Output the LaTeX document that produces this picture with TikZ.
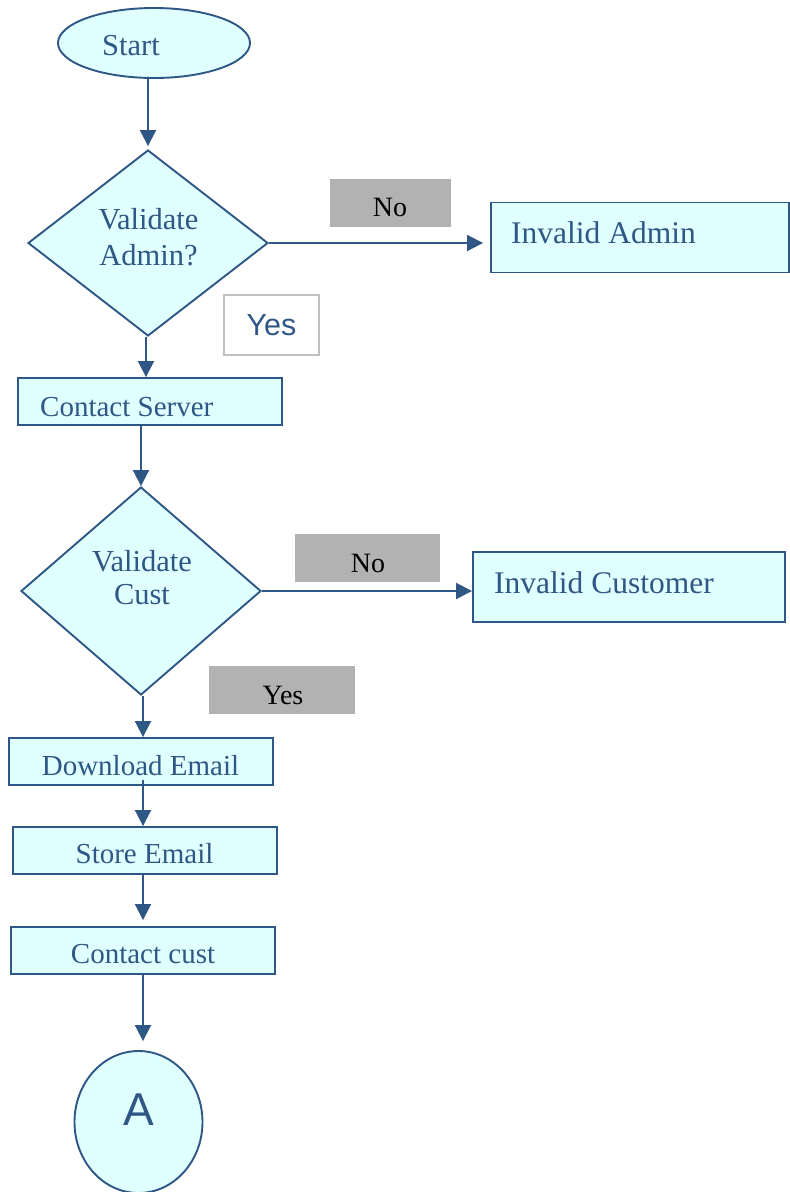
\documentclass[tikz,border=0pt]{standalone}
\usepackage{fontspec}
\setmainfont{Liberation Serif}
\setsansfont{Liberation Sans}
\usetikzlibrary{shapes.geometric,arrows.meta}
\definecolor{flowline}{RGB}{46,87,133}
\definecolor{flowfill}{RGB}{224,255,255}
\definecolor{tagfill}{RGB}{178,178,178}
\definecolor{tagedge}{RGB}{192,192,192}
\begin{document}
\begin{tikzpicture}[x=1pt,y=-1pt,
  shapebase/.style={draw=flowline, fill=flowfill, line width=1.9pt, inner sep=0pt},
  procbox/.style={shapebase, rectangle, minimum width=#1, minimum height=47pt},
  endbox/.style={shapebase, rectangle, minimum width=#1, minimum height=70pt},
  decision/.style={shapebase, diamond, minimum width=240pt, minimum height=#1},
  terminal/.style={shapebase, ellipse, minimum width=192pt, minimum height=70pt},
  connector/.style={shapebase, ellipse, minimum width=128pt, minimum height=142pt},
  graytag/.style={rectangle, fill=tagfill, draw=none, inner sep=0pt, minimum width=#1, minimum height=48pt},
  whitetag/.style={rectangle, fill=white, draw=tagedge, line width=1.6pt, inner sep=0pt, minimum width=95pt, minimum height=60pt},
  txt/.style={font=\fontsize{29}{34}\selectfont, text=flowline, anchor=base, inner sep=0pt},
  midtxt/.style={txt, font=\fontsize{30.5}{36}\selectfont},
  bigtxt/.style={font=\fontsize{31.5}{36}\selectfont, text=flowline, anchor=base west, inner sep=0pt},
  tagtxt/.style={font=\fontsize{28}{34}\selectfont, text=black, anchor=base, inner sep=0pt},
  flow/.style={draw=flowline, line width=1.9pt, -{Triangle[length=16pt,width=16pt]}},
]
\useasboundingbox (0,0) rectangle (790,1192);

% shapes
\node[terminal] (start) at (154,43) {};
\node[decision=186pt] (d1) at (148,243) {};
\node[endbox=298pt] (ia) at (640,237.5) {};
\node[graytag=121pt] (no1) at (390.5,203) {};
\node[whitetag] (yes1) at (271.5,325) {};
\node[procbox=264pt] (cs) at (150,401.5) {};
\node[decision=208pt] (d2) at (141,591) {};
\node[graytag=145pt] (no2) at (367.5,558) {};
\node[endbox=312pt] (ic) at (629,587) {};
\node[graytag=146pt] (yes2) at (282,690) {};
\node[procbox=264pt] (de) at (141,761.5) {};
\node[procbox=264pt] (se) at (145,850.5) {};
\node[procbox=264pt] (cc) at (143,950.5) {};
\node[connector] (A) at (138.5,1122) {};

% texts
\node[midtxt] (t-start) at (131,55) {Start};
\node[midtxt] (t-d1a) at (148.5,229) {Validate};
\node[midtxt] (t-d1b) at (148.5,265) {Admin?};
\node[tagtxt] (t-no1) at (390,216.5) {No};
\node[bigtxt] (t-ia) at (511,243) {Invalid Admin};
\node[txt, font=\sffamily\fontsize{30.5}{34}\selectfont] (t-yes1) at (271.5,335) {Yes};
\node[txt, anchor=base west] (t-cs) at (40,416) {Contact Server};
\node[midtxt] (t-d2a) at (142,571) {Validate};
\node[midtxt] (t-d2b) at (142,604) {Cust};
\node[tagtxt] (t-no2) at (368,572.5) {No};
\node[bigtxt] (t-ic) at (494,593) {Invalid Customer};
\node[tagtxt] (t-yes2) at (283,704.5) {Yes};
\node[txt] (t-de) at (140.5,775) {Download Email};
\node[txt] (t-se) at (144.5,863) {Store Email};
\node[txt] (t-cc) at (143,963) {Contact cust};
\node[txt, font=\sffamily\fontsize{46}{50}\selectfont] (t-A) at (138.5,1125) {A};

% connector start points, nudged off the shape centres
\coordinate (d1out) at ([xshift=-2pt]d1.south);
\coordinate (d2out) at ([xshift=2pt]d2.south);
\coordinate (deout) at ([xshift=2pt]de.south);
\coordinate (seout) at ([xshift=-2pt]se.south);

% connectors
\draw[flow, shorten >=3pt] (start.south -| d1.north) -- (d1.north);
\draw[flow, shorten >=7pt] (d1.east) -- (ia.west |- d1.east);
\draw[flow] (d1out) -- (cs.north -| d1out);
\draw[flow] (cs.south -| d2.north) -- (d2.north);
\draw[flow] (d2.east) -- (ic.west |- d2.east);
\draw[flow] (d2out) -- (de.north -| d2out);
\draw[flow, shorten <=-6pt] (deout) -- (se.north -| deout);
\draw[flow, shorten >=6pt] (seout) -- (cc.north -| seout);
\draw[flow, shorten >=9pt] (cc.south) -- (A.north -| cc.south);
\end{tikzpicture}
\end{document}
